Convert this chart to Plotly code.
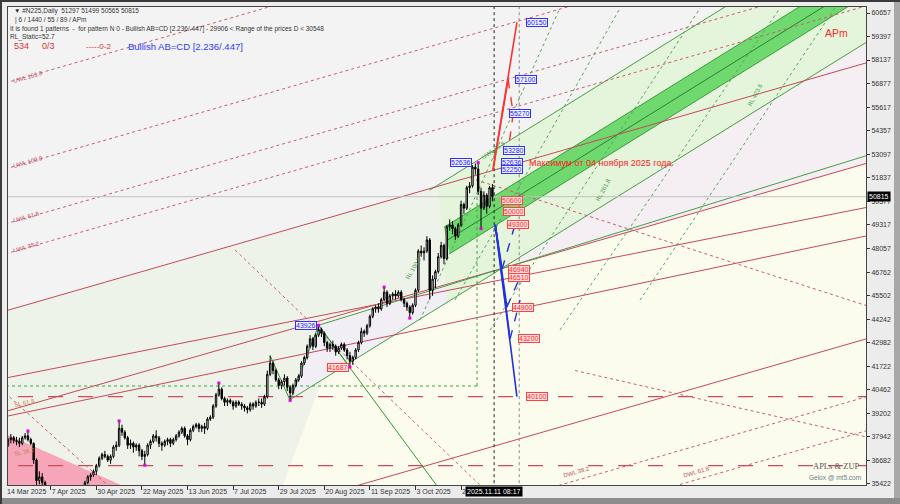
import plotly.graph_objects as go
import pandas as pd

# ---------------- data ----------------
dates = [d for d in pd.bdate_range("2025-03-14", "2025-11-11") if d != pd.Timestamp("2025-04-18")]

opens = [37200,37500,37800,37900,37750,37700,37600,37900,38000,37800,
         37600,36700,35600,35800,35500,34000,32800,31500,32600,34000,
         33800,33600,34100,34300,33900,34400,34300,34400,35100,35500,
         35800,35900,36100,36400,36800,37000,36900,36700,36900,37400,
         37500,38400,38200,37900,37500,37600,37400,37500,37200,36900,
         37000,37500,37700,38000,37900,37600,37500,37700,37800,37600,
         37800,38000,38200,38400,38000,37800,38300,38500,38600,38400,
         38500,38400,38900,39000,39600,40200,40500,40000,39800,39900,
         39800,39600,39800,39700,39600,39500,39400,39700,39600,39800,
         39800,39700,40100,41300,41900,41500,41000,40700,40900,41100,
         40600,40300,40700,41000,41200,41900,42200,42800,43200,42800,
         43400,43700,43500,43000,42700,42900,42800,42500,42700,42900,
         42600,42300,42000,42200,42600,43000,43600,43500,43900,44400,
         44800,44900,44800,45300,45700,45100,45500,45600,45500,45700,
         45300,45100,44900,44600,45000,45800,47900,47800,47900,48500,
         45800,46400,46800,47600,48200,47500,49200,49300,49100,48700,
         49300,50400,50200,51300,51400,52400,52300,51100,50200,50900,
         50300,51297]
highs = [37600,37900,38100,38000,37950,37900,38000,38150,38260,37900,
         37650,36800,36100,36000,35600,34200,33000,33300,34300,34700,
         34100,34300,34500,34400,34500,34700,34600,35300,35600,35900,
         36000,36200,36500,36900,37100,37200,37000,37000,37500,37700,
         38800,38600,38300,38000,37800,37700,37600,37600,37300,37200,
         37600,37800,38100,38300,38000,37700,37800,37900,37900,37900,
         38100,38300,38500,38500,38100,38400,38600,38700,38700,38600,
         38700,39000,39100,39700,40300,40830,40600,40100,40000,40000,
         39900,39900,39900,39800,39700,39600,39800,39800,39900,40000,
         40000,40200,41500,42300,42000,41600,41100,41000,41300,41200,
         40700,40800,41100,41300,42000,42300,42900,43400,43300,43500,
         43926,43800,43600,43100,43000,43100,42900,42800,43000,43000,
         42700,42500,42300,42700,43100,43800,43700,44000,44500,44900,
         45000,45100,45400,45970,45800,45600,45700,45800,45800,45800,
         45400,45200,45000,45100,45900,48000,48200,48100,48700,48600,
         46600,46900,47800,48400,48300,49300,49600,49500,49200,49400,
         50600,50500,51400,51600,52500,52600,52636,51300,51100,51000,
         51400,51499]
lows = [37000,37400,37600,37600,37500,37400,37500,37800,37700,37500,
        36500,35300,35400,35100,33800,32500,30800,31300,31700,33600,
        33000,33500,33900,33700,33800,34200,34000,34300,34900,35400,
        35600,35800,35900,36300,36700,36800,36600,36500,36800,37200,
        37400,38000,37800,37300,37300,37100,37200,36900,36700,36430,
        36900,37300,37600,37700,37400,37200,37400,37500,37400,37500,
        37700,37900,38100,37900,37500,37700,38200,38400,38200,38200,
        38100,38300,38800,38900,39500,40100,39900,39600,39600,39700,
        39400,39500,39600,39400,39300,39200,39300,39400,39500,39600,
        39500,39600,40000,41200,41300,40900,40500,40500,40700,40400,
        39900,40200,40600,40900,41100,41800,42100,42700,42600,42700,
        43300,43300,42800,42500,42500,42600,42300,42400,42600,42500,
        42100,41687,41800,42100,42500,42900,43300,43400,43800,44300,
        44600,44600,44700,45200,44900,45000,45300,45300,45400,45200,
        44900,44700,44310,44500,44900,45700,47600,47400,47800,45300,
        45500,45900,46700,47500,47200,47400,49000,48800,48500,48600,
        49200,49900,50100,51000,51300,52000,50900,49100,50100,49900,
        50200,50565]
closes = [37500,37800,37900,37750,37700,37600,37900,38000,37800,37600,
          36700,35600,35800,35500,34000,32800,31500,32600,34000,33800,
          33600,34100,34300,33900,34400,34300,34400,35100,35500,35800,
          35900,36100,36400,36800,37000,36900,36700,36900,37400,37500,
          38400,38200,37900,37500,37600,37400,37500,37200,36900,37000,
          37500,37700,38000,37900,37600,37500,37700,37800,37600,37800,
          38000,38200,38400,38000,37800,38300,38500,38600,38400,38500,
          38400,38900,39000,39600,40200,40500,40000,39800,39900,39800,
          39600,39800,39700,39600,39500,39400,39700,39600,39800,39800,
          39700,40100,41300,41900,41500,41000,40700,40900,41100,40600,
          40300,40700,41000,41200,41900,42200,42800,43200,42800,43400,
          43700,43500,43000,42700,42900,42800,42500,42700,42900,42600,
          42300,42000,42200,42600,43000,43600,43500,43900,44400,44800,
          44900,44800,45300,45700,45100,45500,45600,45500,45700,45300,
          45100,44900,44600,45000,45800,47900,47800,47900,48500,45800,
          46400,46800,47600,48200,47500,49200,49300,49100,48700,49300,
          50400,50200,51300,51400,52400,52300,51100,50200,50900,50300,
          51300,50815]

price_ticks = [60657, 59397, 58137, 56877, 55617, 54357, 53097, 51837, 50577, 49317,
               48057, 46762, 45502, 44242, 42982, 41722, 40462, 39202, 37942, 36682, 35422]
last_price = 50815

pivot_highs = [8, 40, 75, 110, 133, 166]
pivot_lows = [49, 100, 121, 142, 167]

up_start = 52250
down_start = 49300
blue_levels = [60150, 57100, 55270, 53280, 52636, 52250]
red_levels = [50600, 50000, 49300, 46940, 46510, 44900, 43200, 40100]

pf_slope = 44.0
pf_solid = {"upper": 44690, "median": 39300, "lower": 29900}
pf_warn = {"UWL 161.8": 56906, "UWL 100.0": 52298, "UWL 61.8": 49352, "UWL 38.2": 47744,
           "DWL 38.2": 26794, "DWL 61.8": 24974}
fan_lines = [(41125, 50234), (39065, 48709)]
g_slope = 94.7
g_levels = {"up": 56000, "band_top": 53535, "band_mid": 52732, "band_bot": 51928, "lo": 49409}
h_levels = [40100, 36400]

n = len(dates)
xs = list(range(n))

# ---------------- layout helpers ----------------
L, T, W, H = 8, 7, 858, 478
def pxx(px):
    return (px - L) / W
def pyy(py):
    return (T + H - py) / H

X0, X1 = 1.0, 302.1
Y0, Y1 = 35367, 60979

shapes = []
def seg(x0, y0, x1, y1, color, width=1, dash="solid", layer="below"):
    shapes.append(dict(type="line", xref="x", yref="y", x0=x0, y0=y0, x1=x1, y1=y1,
                       layer=layer, line=dict(color=color, width=width, dash=dash)))
def poly(pts, fill, layer="below"):
    path = "M " + " L ".join(f"{a},{b}" for a, b in pts) + " Z"
    shapes.append(dict(type="path", xref="x", yref="y", path=path, fillcolor=fill, layer=layer,
                       line=dict(color="rgba(0,0,0,0)", width=0)))

def pf(level, b):
    return level + pf_slope * b
def gl(level, b):
    return level + g_slope * (b - 200)

XA, XB = -6, 312
RED = "#c84858"
RED_D = "#d05a6a"

# backgrounds
poly([(XA, pf(pf_solid["upper"], XA)), (XB, pf(pf_solid["upper"], XB)), (XB, 20000), (XA, 20000)], "#fcfcee")
poly([(XA, pf(pf_solid["upper"], XA)), (XB, pf(pf_solid["upper"], XB)),
      (XB, pf(pf_solid["median"], XB)), (XA, pf(pf_solid["median"], XA))], "#eef3ea")
poly([(XA, pf(pf_solid["median"], XA)), (120, pf(pf_solid["median"], 120)),
      (60, 20000), (XA, 20000)], "#eef2e8")
poly([(164, gl(g_levels["lo"], 164)), (XB, gl(g_levels["lo"], XB)), (XB, pf(pf_solid["median"], XB)),
      (130, pf(pf_solid["median"], 130))], "#f5eef3")
poly([(-2, 38250), (46, 35000), (-2, 35000)], "#f6a6b8")
poly([(100, gl(g_levels["lo"], 100)), (160, gl(g_levels["lo"], 160)), (160, 43926 + 47.3 * 50),
      (110, 43926)], "#f1eef6")
poly([(155, gl(g_levels["lo"], 155)), (XB, gl(g_levels["lo"], XB)), (XB, gl(g_levels["up"], XB)),
      (152, gl(g_levels["up"], 152))], "#e4f5dc")
poly([(154, gl(g_levels["band_top"], 154)), (XB, gl(g_levels["band_top"], XB)),
      (XB, gl(g_levels["band_bot"], XB)), (156, gl(g_levels["band_bot"], 156))], "#6fd96f")
seg(154, gl(g_levels["band_top"], 154), XB, gl(g_levels["band_top"], XB), "#3c9c3c", 1)
seg(156, gl(g_levels["band_bot"], 156), XB, gl(g_levels["band_bot"], XB), "#3c9c3c", 1)
seg(155, gl(g_levels["band_mid"], 155), XB, gl(g_levels["band_mid"], XB), "#2f7f2f", 1)
seg(100, gl(g_levels["lo"], 100), XB, gl(g_levels["lo"], XB), "#44a044", 1)
seg(149, gl(g_levels["up"], 149), XB, gl(g_levels["up"], XB), "#44a044", 1)

for name, lv in pf_solid.items():
    seg(XA, pf(lv, XA), XB, pf(lv, XB), RED, 1)
for name, lv in pf_warn.items():
    seg(XA, pf(lv, XA), XB, pf(lv, XB), RED_D, 1, "dot")
for a, b in fan_lines:
    seg(1.05, a, 302.1, b, RED, 1)
for lv in h_levels:
    seg(XA, lv, XB, lv, "#d04a5a", 1.2, "longdash")

seg(80.7, 47958, 180, 33400, RED_D, 1, "dot")
seg(163.2, 51816, 310, 44600, RED_D, 1, "dot")
seg(0, 40300, 40, 34800, RED_D, 1, "dot")
seg(200, 41500, 312, 37600, RED_D, 1, "dot")

for (a0, p0, a1, p1) in [(157.9, 45280, 215.8, 60925), (170.2, 43672, 243.9, 60925),
                         (194.7, 43672, 271.9, 60925), (222.8, 45280, 291.2, 60925),
                         (145.6, 44208, 194.7, 60925)]:
    seg(a0, p0, a1, p1, "#58a858", 1, "dot")

seg(XA, 40671, 165.6, 40671, "#3aa63a", 1, "dot")
seg(165.6, 40671, 165.6, 50906, "#3aa63a", 1, "dot")

zz = [(93, 42300), (100, 39900), (110, 43926), (121, 41687)]
for (a0, p0), (a1, p1) in zip(zz[:-1], zz[1:]):
    seg(a0, p0, a1, p1, "#2e9a2e", 1)
seg(110, 43926, 175, 30460, "#2e9a2e", 1)
seg(110, 43926, 310, 53380, "#44a044", 1)

seg(XA, last_price, XB, last_price, "#c0c0c0", 1)
seg(171.6, 30000, 171.6, 62000, "#222222", 1, "dot")
seg(180.4, 30000, 180.4, 62000, "#888888", 1, "dot")

red_tips = [(179.6, 60150), (176.5, 57100)]
for tb, tp in red_tips:
    seg(171.2, up_start, tb, tp, "#ff3030", 1.6, layer="above")
seg(176.5, 57100, 178.3, 55270, "#ff3030", 1.4, "dash", layer="above")
seg(178.3, 55270, 176.8, 53600, "#ff3030", 1.4, "dash", layer="above")
blue_tips = [(179.6, 40100), (177.2, 43200), (176.1, 44900), (174.4, 46940)]
for tb, tp in blue_tips:
    seg(172.0, down_start, tb, tp, "#2233dd", 1.6, layer="above")
seg(174.4, 46940, 178.9, 49300, "#2233dd", 1.4, "dash", layer="above")
seg(176.1, 44900, 180.7, 46510, "#2233dd", 1.4, "dash", layer="above")
seg(177.2, 43200, 180.7, 45280, "#2233dd", 1.4, "dash", layer="above")

def prect(x0, y0, x1, y1, color):
    shapes.append(dict(type="rect", xref="paper", yref="paper", x0=pxx(x0), x1=pxx(x1), y0=pyy(y1), y1=pyy(y0),
                       fillcolor=color, line=dict(width=0), layer="below"))
prect(894, -1, 901, 505, "#a8a8a8")
prect(-1, 498, 901, 505, "#8c8c8c")
prect(-1, -1, 901, 2, "#3a3a3a")
prect(-1, -1, 2, 505, "#3a3a3a")

# ---------------- traces ----------------
fig = go.Figure()
fig.add_trace(go.Candlestick(
    x=xs, open=opens, high=highs, low=lows, close=closes,
    increasing=dict(line=dict(color="black", width=1), fillcolor="white"),
    decreasing=dict(line=dict(color="black", width=1), fillcolor="black"),
    whiskerwidth=0, showlegend=False, hoverinfo="skip"))
fig.add_trace(go.Scatter(
    x=pivot_highs + pivot_lows,
    y=[highs[i] for i in pivot_highs] + [lows[i] for i in pivot_lows],
    mode="markers", marker=dict(symbol="square", size=3, color="#e000e0"),
    showlegend=False, hoverinfo="skip"))

# ---------------- annotations ----------------
ann = []
FONT = "Liberation Sans"
def ptext(px, py, text, size=7, color="#333333", xanchor="left", family=FONT, angle=0):
    ann.append(dict(xref="paper", yref="paper", x=pxx(px), y=pyy(py), text=text, showarrow=False,
                    xanchor=xanchor, yanchor="middle", font=dict(size=size, color=color, family=family),
                    textangle=angle))
def dtext(b, p, text, size=7, color="#333333", xanchor="left", angle=0, yanchor="middle", **kw):
    ann.append(dict(xref="x", yref="y", x=b, y=p, text=text, showarrow=False, xanchor=xanchor,
                    yanchor=yanchor, font=dict(size=size, color=color, family=FONT), textangle=angle, **kw))

ptext(12, 11, "▼ #N225,Daily  51297 51499 50565 50815", 6.5)
ptext(13, 20, "| 6 / 1440 / 55 / 89 / APm", 6.5)
ptext(8, 29, "It is found 1 patterns  -  for pattern N 0 - Bullish AB=CD [2.236/.447] - 29906 < Range of the prices D < 30548", 6.5)
ptext(8, 37, "RL_Static=52.7", 6.5)
ptext(12, 46, "534", 9, "#e03030")
ptext(40, 46, "0/3", 9, "#e03030")
ptext(84, 46, "-----0-2", 8, "#e03030")
ptext(126, 46, "Bullish AB=CD [2.236/.447]", 9.5, "#2a3cff")
ptext(823, 33, "APm", 10.5, "#ff2a2a")
ptext(811, 466, "APLs &amp; ZUP", 8.5, "#555555", family="Liberation Serif")
ptext(807, 477, "Gelox @ mt5.com", 6.5, "#6c7c8c")

dtext(183.2, 52636, "Максимум от 04 ноября 2025 года", 9, "#ff2020")

for name, px, py in [("UWL 161.8", 10, 77), ("UWL 100.0", 10, 162), ("UWL 61.8", 10, 217), ("UWL 38.2", 10, 247)]:
    ptext(px, py, name, 6, "#c05060", angle=-16)
ptext(560, 472, "DWL 38.2", 6, "#c05060", angle=-16)
ptext(680, 472, "DWL 61.8", 6, "#c05060", angle=-16)
ptext(11, 403, "SL 61.8", 6, "#d08050", angle=-12)
ptext(11, 452, "SL 38.2", 6, "#d08050", angle=-12)
ptext(744, 95, "RL 423.6", 6, "#4a9a4a", angle=-62)
ptext(592, 190, "RL 261.8", 6, "#4a9a4a", angle=-62)
ptext(402, 268, "RL 100.0", 6, "#4a9a4a", angle=-60)
ptext(478, 150, "UWL 61.8", 6, "#4a9a4a", angle=-35)

blue_pos = [182.8, 178.9, 176.8, 174.7, 174.0, 174.0]
red_pos = [174.0, 174.7, 176.1, 176.5, 176.5, 177.9, 180.0, 182.8]
for lv, b in zip(blue_levels, blue_pos):
    dtext(b, lv, str(lv), 7, "#2020ff", bgcolor="#f4f4ff", bordercolor="#3030ff", borderwidth=1, borderpad=0)
for lv, b in zip(red_levels, red_pos):
    dtext(b, lv, str(lv), 7, "#ff2020", bgcolor="#ffe4e4", bordercolor="#ff4040", borderwidth=1, borderpad=0)
dtext(163.9, 52636, "52636", 7, "#2020ff", xanchor="right", bgcolor="#f4f4ff", bordercolor="#3030ff", borderwidth=1, borderpad=0)
dtext(109.3, 43926, "43926", 7, "#2020ff", xanchor="right", bgcolor="#f4f4ff", bordercolor="#3030ff", borderwidth=1, borderpad=0)
dtext(120.8, 41687, "41687", 7, "#ff2020", xanchor="right", bgcolor="#ffe4e4", bordercolor="#ff4040", borderwidth=1, borderpad=0)

ann.append(dict(xref="x", yref="paper", x=171.6, y=pyy(491), text="2025.11.11 08:17", showarrow=False,
                xanchor="center", yanchor="middle", font=dict(size=7, color="white", family=FONT),
                bgcolor="#000000", borderpad=1))
ann.append(dict(xref="paper", yref="y", x=pxx(867), y=last_price, text=str(last_price), showarrow=False,
                xanchor="left", yanchor="middle", font=dict(size=7, color="white", family=FONT),
                bgcolor="#000000", borderpad=1))
ann.append(dict(xref="paper", yref="paper", x=pxx(5), y=pyy(491), text=f"{dates[0].day} {dates[0].strftime('%b %Y')}",
                showarrow=False, xanchor="left", yanchor="middle", font=dict(size=7, color="#333", family=FONT)))

tick_idx = list(range(16, n, 16))
tick_txt = [f"{dates[i].day} {dates[i].strftime('%b %Y')}" for i in tick_idx]

fig.update_layout(
    width=900, height=504,
    margin=dict(l=L, r=900 - L - W, t=T, b=504 - T - H, autoexpand=False),
    paper_bgcolor="#ececec", plot_bgcolor="#f3f3f3",
    shapes=shapes, annotations=ann,
    xaxis=dict(range=[X0, X1], rangeslider=dict(visible=False), showgrid=False, zeroline=False,
               automargin=False, tickangle=0,
               tickmode="array", tickvals=tick_idx, ticktext=tick_txt, ticks="outside", ticklen=4,
               tickcolor="#333", ticklabelposition="outside right",
               tickfont=dict(size=7, color="#333", family=FONT),
               showline=True, linecolor="#444", mirror=True),
    yaxis=dict(range=[Y0, Y1], side="right", showgrid=False, zeroline=False, automargin=False,
               tickmode="array", tickvals=price_ticks, ticktext=[str(v) for v in price_ticks],
               ticks="outside", ticklen=3, tickcolor="#333",
               tickfont=dict(size=7, color="#333", family=FONT),
               showline=True, linecolor="#444", mirror=True),
    showlegend=False,
)

fig.write_html("out.html", config={"displayModeBar": False, "staticPlot": True},
               post_script="document.body.style.margin='0';document.body.style.overflow='hidden';")
